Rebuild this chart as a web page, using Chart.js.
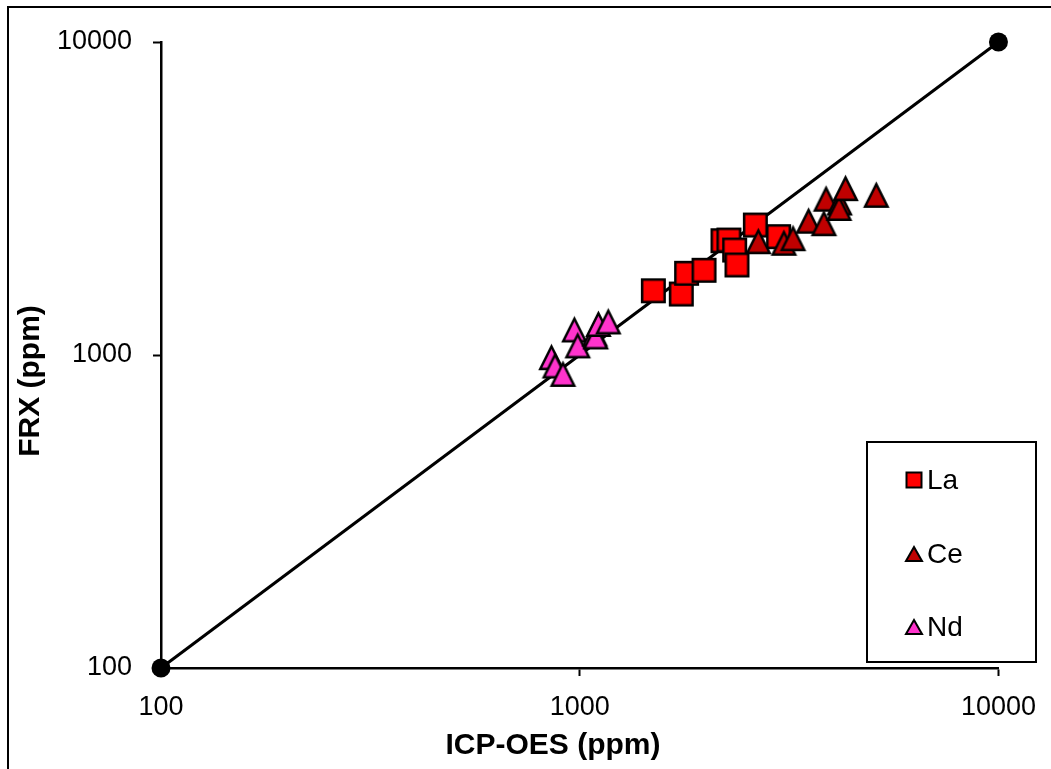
<!DOCTYPE html>
<html>
<head>
<meta charset="utf-8">
<script src="https://cdn.jsdelivr.net/npm/chart.js@4.4.1/dist/chart.umd.min.js"></script>
<style>
    html, body { margin: 0; padding: 0; background: #fff; }
    #wrap { width: 1051px; height: 769px; position: relative; }
</style>
</head>
<body>
<div id="wrap"><canvas id="chart" width="1051" height="769"></canvas></div>
<script>
// tick values (both axes)
const axisTicks = [100, 1000, 10000];
const xTitle = 'ICP-OES (ppm)';
const yTitle = 'FRX (ppm)';

// La
const laX = [1499, 1748, 1800, 1981, 2198, 2271, 2344, 2374, 2627, 2985];
const laY = [1604, 1566, 1824, 1865, 2318, 2330, 2165, 1939, 2602, 2388];

// Ce
const ceX = [2670, 3073, 3232, 3520, 3830, 3876, 4174, 4162, 4313, 5107];
const ceY = [2301, 2275, 2352, 2676, 2627, 3146, 3059, 2938, 3399, 3237];

// Nd
const ndX = [856, 873, 912, 971, 989, 1086, 1092, 1108, 1170];
const ndY = [980, 922, 867, 1202, 1069, 1167, 1142, 1252, 1275];

// 1:1 line
const lineX = [100, 10000];
const lineY = [100, 10000];

const FONT = "'Liberation Sans', Arial, sans-serif";

function toPoints(xs, ys) {
    return xs.map((x, i) => ({ x: x, y: ys[i] }));
}

// marker images (Excel-like square / triangle with black outline)
function makeMarker(shape, fill, w, h, lw) {
    const pad = 3;
    const c = document.createElement('canvas');
    c.width = w + pad * 2;
    c.height = h + pad * 2;
    const g = c.getContext('2d');
    g.fillStyle = fill;
    g.strokeStyle = '#000';
    g.lineWidth = lw;
    g.lineJoin = 'miter';
    const a = pad + lw / 2;
    g.beginPath();
    if (shape === 'square') {
        g.rect(a, a, w - lw, h - lw);
    } else {
        g.moveTo(pad + w / 2, a);
        g.lineTo(pad + w - lw / 2, pad + h - lw / 2);
        g.lineTo(a, pad + h - lw / 2);
        g.closePath();
    }
    g.fill();
    g.stroke();
    return c;
}

const markers = {
    La: makeMarker('square', '#FF0000', 25, 25, 2.5),
    Ce: makeMarker('triangle', '#C00000', 25, 25, 2.5),
    Nd: makeMarker('triangle', '#FF33CC', 25, 25, 2.5)
};
const legendMarkers = {
    La: makeMarker('square', '#FF0000', 17, 17, 2),
    Ce: makeMarker('triangle', '#C00000', 18, 16, 2),
    Nd: makeMarker('triangle', '#FF33CC', 18, 16, 2)
};

// outer frame (only top and left edges visible in the picture)
const framePlugin = {
    id: 'frame',
    beforeDraw(chart) {
        const ctx = chart.ctx;
        ctx.save();
        ctx.fillStyle = '#fff';
        ctx.fillRect(0, 0, chart.width, chart.height);
        ctx.strokeStyle = '#000';
        ctx.lineWidth = 2;
        ctx.beginPath();
        ctx.moveTo(8, chart.height);
        ctx.lineTo(8, 7);
        ctx.lineTo(chart.width, 7);
        ctx.stroke();
        ctx.restore();
    }
};

// axis titles sit a bit off-centre in the original, so draw them here
const axisTitles = {
    id: 'axisTitles',
    afterDraw(chart) {
        const ctx = chart.ctx;
        ctx.save();
        ctx.font = 'bold 30px ' + FONT;
        ctx.fillStyle = '#000';
        ctx.textAlign = 'center';
        ctx.textBaseline = 'middle';
        ctx.fillText(xTitle, 553, 746);
        ctx.translate(31, 381);
        ctx.rotate(-Math.PI / 2);
        ctx.fillText(yTitle, 0, 0);
        ctx.restore();
    }
};

// boxed legend inside the plot area
const boxLegend = {
    id: 'boxLegend',
    afterDraw(chart) {
        const ctx = chart.ctx;
        const box = { left: 867, top: 442, right: 1036, bottom: 662 };
        const rows = [480, 554, 627];
        ctx.save();
        ctx.fillStyle = '#fff';
        ctx.fillRect(box.left, box.top, box.right - box.left, box.bottom - box.top);
        ctx.strokeStyle = '#000';
        ctx.lineWidth = 2;
        ctx.strokeRect(box.left, box.top, box.right - box.left, box.bottom - box.top);
        ctx.font = '28px ' + FONT;
        ctx.fillStyle = '#000';
        ctx.textBaseline = 'middle';
        chart.data.datasets.filter(d => legendMarkers[d.label]).forEach((d, i) => {
            const img = legendMarkers[d.label];
            ctx.drawImage(img, 914 - img.width / 2, rows[i] - img.height / 2);
            ctx.fillText(d.label, 927, rows[i] + 1);
        });
        ctx.restore();
    }
};

const tickFont = { family: FONT, size: 27 };

new Chart(document.getElementById('chart'), {
    type: 'scatter',
    data: {
        datasets: [
            {
                label: 'La',
                data: toPoints(laX, laY),
                pointStyle: markers.La,
                pointRadius: 12,
                order: 3
            },
            {
                label: 'Ce',
                data: toPoints(ceX, ceY),
                pointStyle: markers.Ce,
                pointRadius: 12,
                order: 1
            },
            {
                label: 'Nd',
                data: toPoints(ndX, ndY),
                pointStyle: markers.Nd,
                pointRadius: 12,
                order: 2
            },
            {
                label: '1:1',
                data: toPoints(lineX, lineY),
                showLine: true,
                borderColor: '#000',
                borderWidth: 3,
                pointStyle: 'circle',
                pointRadius: 9.5,
                pointBackgroundColor: '#000',
                pointBorderColor: '#000',
                pointBorderWidth: 0,
                clip: false,
                order: 4
            }
        ]
    },
    options: {
        responsive: false,
        animation: false,
        events: [],
        layout: { padding: { left: 0, top: 42, right: 52, bottom: 0 } },
        plugins: {
            legend: { display: false },
            tooltip: { enabled: false }
        },
        scales: {
            x: {
                type: 'logarithmic',
                min: 100,
                max: 10000,
                afterBuildTicks: s => { s.ticks = axisTicks.map(v => ({ value: v })); },
                afterFit: s => { s.height = 101; },
                ticks: {
                    color: '#000',
                    font: tickFont,
                    padding: 15,
                    maxRotation: 0,
                    autoSkip: false,
                    callback: v => String(v)
                },
                grid: { drawOnChartArea: false, drawTicks: true, tickLength: 8, tickColor: '#000', tickWidth: 2 },
                border: { display: true, color: '#000', width: 2.5 }
            },
            y: {
                type: 'logarithmic',
                min: 100,
                max: 10000,
                afterBuildTicks: s => { s.ticks = axisTicks.map(v => ({ value: v })); },
                afterFit: s => { s.width = 161; },
                ticks: {
                    color: '#000',
                    font: tickFont,
                    padding: 21,
                    autoSkip: false,
                    callback: v => String(v)
                },
                grid: { drawOnChartArea: false, drawTicks: true, tickLength: 8, tickColor: '#000', tickWidth: 2 },
                border: { display: true, color: '#000', width: 2.5 }
            }
        }
    },
    plugins: [framePlugin, axisTitles, boxLegend]
});
</script>
</body>
</html>
